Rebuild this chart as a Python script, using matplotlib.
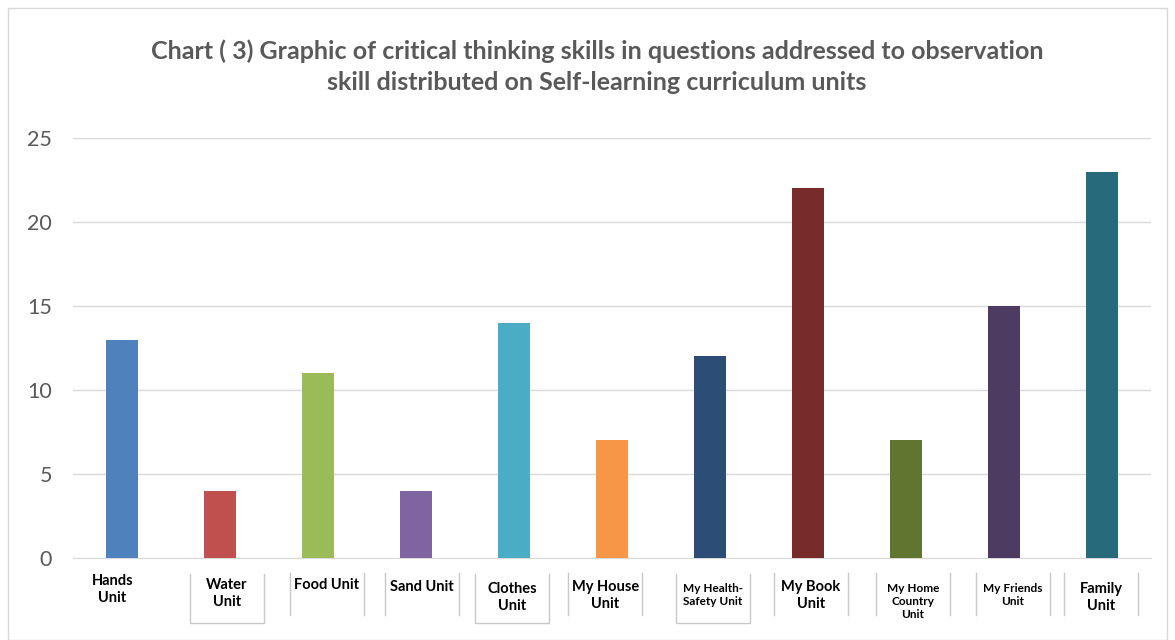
import matplotlib
matplotlib.use("Agg")
import matplotlib.pyplot as plt
from matplotlib.patches import Rectangle

plt.rcParams["font.family"] = ["Lato", "DejaVu Sans"]

units = ["Hands\nUnit", "Water\nUnit", "Food Unit", "Sand Unit", "Clothes\nUnit",
         "My House\nUnit", "My Health-\nSafety Unit", "My Book\nUnit",
         "My Home\nCountry\nUnit", "My Friends\nUnit", "Family\nUnit"]
counts = [13, 4, 11, 4, 14, 7, 12, 22, 7, 15, 23]
colors = ["#4F81BD", "#C0504D", "#9BBB59", "#8064A2", "#4BACC6", "#F79646",
          "#2C4D75", "#772C2A", "#5F7530", "#4D3B62", "#276A7C"]
yticks = [0, 5, 10, 15, 20, 25]
title = ("Chart ( 3) Graphic of critical thinking skills in questions addressed to observation\n"
         "skill distributed on Self-learning curriculum units")

# label layout: (x shift in category units, top y in px below axis, fontsize, frame kind)
lab_style = [(-0.1, 16, 10.5, None), (0.07, 20, 10.5, "box"), (0.09, 20, 10.5, "sep"),
             (0.06, 22, 10.5, "sep"), (-0.02, 24, 10.5, "box"), (-0.07, 22, 10.5, "sep"),
             (0.03, 25, 8.5, "box"), (0.03, 22, 10.5, "sep"), (0.07, 25, 8.5, "sep"),
             (0.09, 25, 8.5, "sep"), (-0.01, 24, 10.5, "sep")]

W, H = 1175, 640
fig = plt.figure(figsize=(W / 100, H / 100), dpi=100)
fig.patches.append(Rectangle((8 / W, 0), 1 - 16 / W, 1 - 8 / H, transform=fig.transFigure,
                             fill=False, edgecolor="#D9D9D9", lw=1))
ax = fig.add_axes([73 / W, 1 - 558 / H, (1151 - 73) / W, (558 - 138) / H])

x = list(range(len(units)))
ax.bar(x, counts, width=0.33, color=colors, zorder=3)
ax.set_xlim(-0.5, len(units) - 0.5)
ax.set_ylim(0, 25)
ax.set_yticks(yticks)
ax.set_yticklabels([str(v) for v in yticks], fontsize=15.5, color="#595959")
ax.tick_params(axis="y", length=0, pad=15)
ax.tick_params(axis="x", length=0, labelbottom=False)
ax.grid(axis="y", color="#D9D9D9", lw=1, zorder=0)
for s in ["top", "right", "left"]:
    ax.spines[s].set_visible(False)
ax.spines["bottom"].set_color("#D9D9D9")

for i, (lab, (dx, dy, fs, kind)) in enumerate(zip(units, lab_style)):
    ax.annotate(lab, xy=(i + dx, 0), xytext=(0, -dy), textcoords="offset pixels",
                ha="center", va="top", fontsize=fs, fontweight="bold",
                color="#000000", linespacing=1.25, annotation_clip=False)
    xl, xr = i + dx - 0.38, i + dx + 0.38
    if kind == "box":
        ax.plot([xl, xl, xr, xr], [-0.95, -3.85, -3.85, -0.95], color="#C8C8C8", lw=1,
                clip_on=False)
    elif kind == "sep":
        ax.plot([xl, xl], [-0.9, -3.4], color="#C8C8C8", lw=1, clip_on=False)
        ax.plot([xr, xr], [-0.9, -3.4], color="#C8C8C8", lw=1, clip_on=False)

fig.text(597 / W, 1 - 67 / H, title, ha="center", va="center", fontsize=18,
         fontweight="bold", color="#595959", linespacing=1.4)

fig.savefig("out.png", dpi=100)
